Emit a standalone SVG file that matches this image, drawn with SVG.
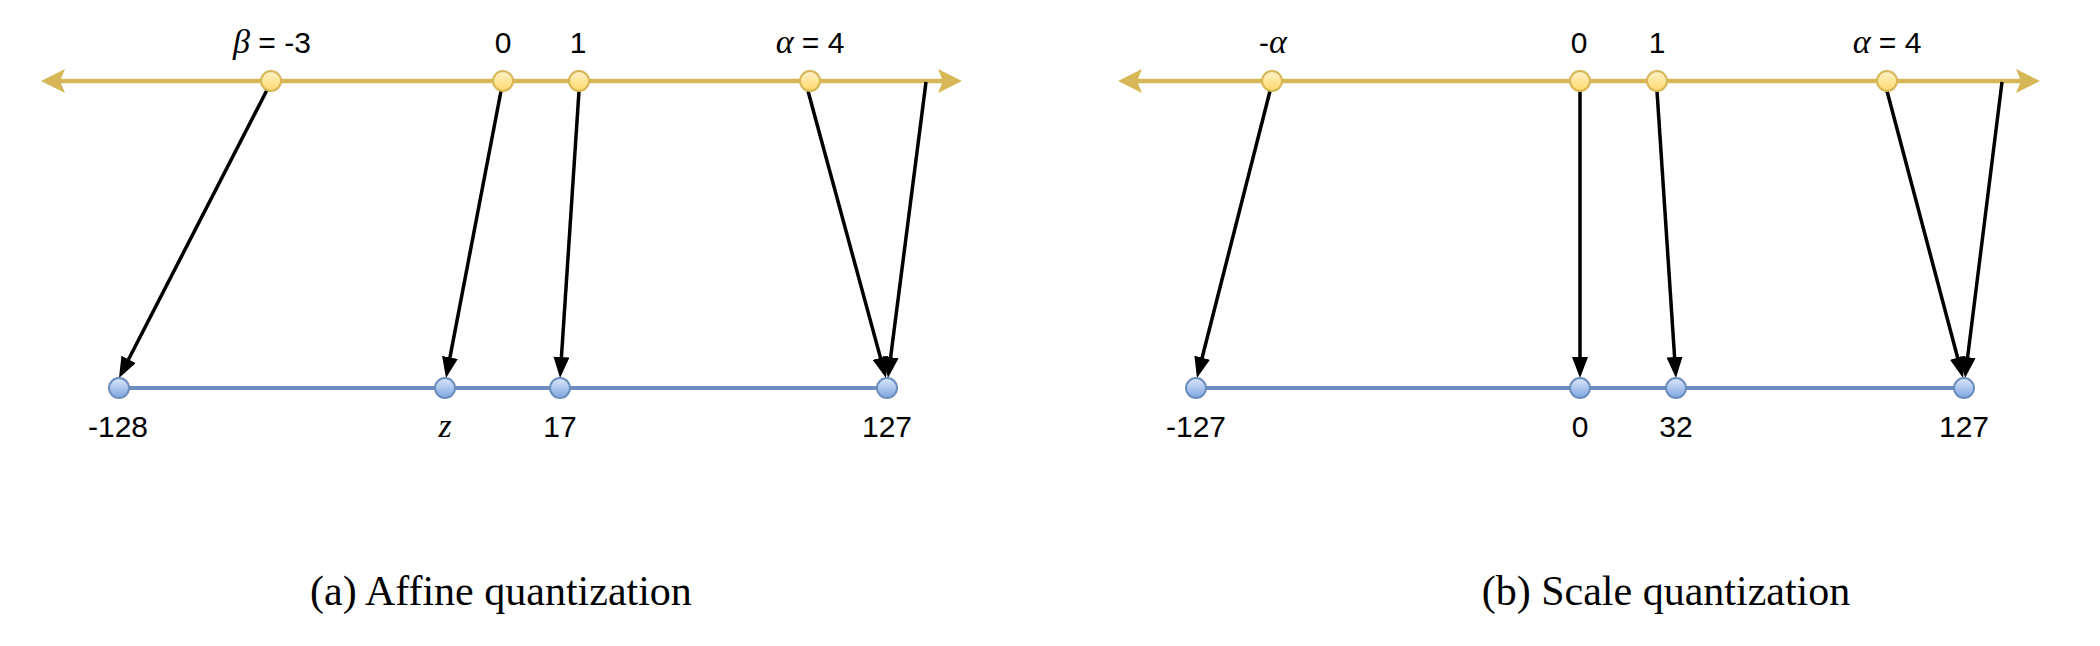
<svg xmlns="http://www.w3.org/2000/svg" width="2100" height="646" viewBox="0 0 2100 646">
<style>
.axisTop{stroke:#D6B656;stroke-width:4.5;fill:none}
.axisBot{stroke:#6C8EBF;stroke-width:4;fill:none}
.headTop{fill:#D6B656;stroke:none}
.nTop{fill:url(#gy);stroke:#D6B656;stroke-width:2}
.nBot{fill:url(#gb);stroke:#6C8EBF;stroke-width:2}
.conn{stroke:#000;stroke-width:3.5;fill:none;marker-end:url(#ah)}
.lbl{font-family:"Liberation Sans",Arial,sans-serif;font-size:30px;fill:#000;text-anchor:middle}
.m{font-family:"Liberation Serif","Times New Roman",serif;font-style:italic;font-size:34px}
.cap{font-family:"Liberation Serif","Times New Roman",serif;font-size:42px;fill:#000;text-anchor:middle}
</style>
<defs>
<linearGradient id="gy" x1="0" y1="0" x2="0" y2="1"><stop offset="0" stop-color="#FFF2CC"/><stop offset="1" stop-color="#FFD966"/></linearGradient>
<linearGradient id="gb" x1="0" y1="0" x2="0" y2="1"><stop offset="0" stop-color="#DAE8FC"/><stop offset="1" stop-color="#7EA6E0"/></linearGradient>
<marker id="ah" markerUnits="userSpaceOnUse" viewBox="0 0 21 16" markerWidth="21" markerHeight="16" refX="5" refY="8" orient="auto"><path d="M0,0 L21,8 L0,16 z" fill="#000"/></marker>
</defs>
<rect width="2100" height="646" fill="#fff"/>

<!-- axes -->
<g id="axes">
<line class="axisTop" x1="50" y1="81" x2="952" y2="81"/>
<polygon class="headTop" points="41,81 65,69 60,81 65,93"/>
<polygon class="headTop" points="962,81 938,69 943,81 938,93"/>
<line class="axisBot" x1="119" y1="388" x2="887" y2="388"/>
<line class="axisTop" x1="1127" y1="81" x2="2031" y2="81"/>
<polygon class="headTop" points="1118,81 1142,69 1137,81 1142,93"/>
<polygon class="headTop" points="2040,81 2016,69 2021,81 2016,93"/>
<line class="axisBot" x1="1196" y1="388" x2="1964" y2="388"/>
</g>

<!-- connectors -->
<g id="connectors">
<line class="conn" x1="267" y1="90" x2="126.3" y2="363.8"/>
<line class="conn" x1="501" y1="91" x2="449.0" y2="362.3"/>
<line class="conn" x1="579" y1="91" x2="561.1" y2="362.0"/>
<line class="conn" x1="808" y1="91" x2="881.8" y2="362.6"/>
<line class="conn" x1="926" y1="82" x2="890.0" y2="362.1"/>
<line class="conn" x1="1270" y1="91" x2="1200.9" y2="362.5"/>
<line class="conn" x1="1580" y1="91" x2="1580" y2="362"/>
<line class="conn" x1="1657" y1="91" x2="1674.9" y2="362.0"/>
<line class="conn" x1="1887" y1="91" x2="1958.9" y2="362.5"/>
<line class="conn" x1="2002" y1="82" x2="1967.0" y2="362.1"/>
</g>

<!-- panel (a) top nodes -->
<g id="a-beta"><ellipse class="nTop" cx="271" cy="81" rx="10" ry="10"/><text class="lbl" x="272" y="53"><tspan class="m">β</tspan> = -3</text></g>
<g id="a-zero"><ellipse class="nTop" cx="503" cy="81" rx="10" ry="10"/><text class="lbl" x="503" y="53">0</text></g>
<g id="a-one"><ellipse class="nTop" cx="579" cy="81" rx="10" ry="10"/><text class="lbl" x="578" y="53">1</text></g>
<g id="a-alpha"><ellipse class="nTop" cx="810" cy="81" rx="10" ry="10"/><text class="lbl" x="810" y="53"><tspan class="m">α</tspan> = 4</text></g>
<!-- panel (a) bottom nodes -->
<g id="a-m128"><ellipse class="nBot" cx="119" cy="388" rx="10" ry="10"/><text class="lbl" x="118" y="437">-128</text></g>
<g id="a-z"><ellipse class="nBot" cx="445" cy="388" rx="10" ry="10"/><text class="lbl m" x="445" y="437">z</text></g>
<g id="a-17"><ellipse class="nBot" cx="560" cy="388" rx="10" ry="10"/><text class="lbl" x="560" y="437">17</text></g>
<g id="a-127"><ellipse class="nBot" cx="887" cy="388" rx="10" ry="10"/><text class="lbl" x="887" y="437">127</text></g>

<!-- panel (b) top nodes -->
<g id="b-malpha"><ellipse class="nTop" cx="1272" cy="81" rx="10" ry="10"/><text class="lbl" x="1273" y="53">-<tspan class="m">α</tspan></text></g>
<g id="b-zero"><ellipse class="nTop" cx="1580" cy="81" rx="10" ry="10"/><text class="lbl" x="1579" y="53">0</text></g>
<g id="b-one"><ellipse class="nTop" cx="1657" cy="81" rx="10" ry="10"/><text class="lbl" x="1657" y="53">1</text></g>
<g id="b-alpha"><ellipse class="nTop" cx="1887" cy="81" rx="10" ry="10"/><text class="lbl" x="1887" y="53"><tspan class="m">α</tspan> = 4</text></g>
<!-- panel (b) bottom nodes -->
<g id="b-m127"><ellipse class="nBot" cx="1196" cy="388" rx="10" ry="10"/><text class="lbl" x="1196" y="437">-127</text></g>
<g id="b-0"><ellipse class="nBot" cx="1580" cy="388" rx="10" ry="10"/><text class="lbl" x="1580" y="437">0</text></g>
<g id="b-32"><ellipse class="nBot" cx="1676" cy="388" rx="10" ry="10"/><text class="lbl" x="1676" y="437">32</text></g>
<g id="b-127"><ellipse class="nBot" cx="1964" cy="388" rx="10" ry="10"/><text class="lbl" x="1964" y="437">127</text></g>

<!-- captions -->
<g id="captions">
<text class="cap" x="501" y="605">(a) Affine quantization</text>
<text class="cap" x="1666" y="605">(b) Scale quantization</text>
</g>
</svg>
